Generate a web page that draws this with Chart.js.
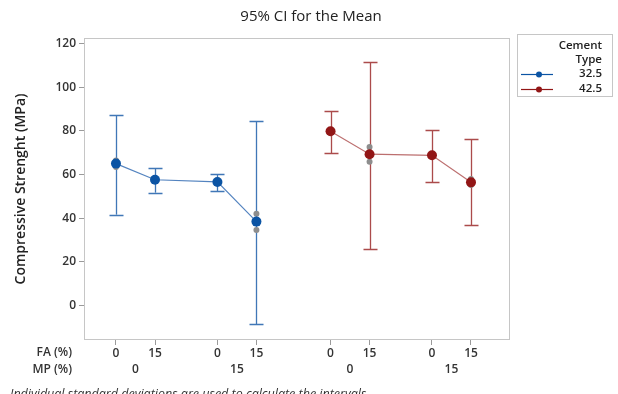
<!DOCTYPE html>
<html>
<head>
<meta charset="utf-8">
<script src="https://cdn.jsdelivr.net/npm/chart.js@4.4.0/dist/chart.umd.min.js"></script>
<style>
  html, body { margin: 0; padding: 0; background: #fff; }
  #wrap { width: 618px; height: 394px; }
</style>
</head>
<body>
<div id="wrap"><canvas id="chart"></canvas></div>
<script>
// categories
var faLabels = ['0', '15', '0', '15', '0', '15', '0', '15'];
var mpLabels = ['0', '15', '0', '15'];
var cementTypes = ['32.5', '42.5'];
var yTicks = [0, 20, 40, 60, 80, 100, 120];

// cement 32.5 : means and 95% CI
var mean325 = [65.0, 57.6, 56.6, 38.4];
var lower325 = [41.6, 51.7, 52.6, -8.6];
var upper325 = [87.3, 62.8, 60.1, 84.5];
var obs325 = [[63.4, 66.4], [57.0, 58.2], [56.0, 57.2], [42.0, 34.6]];

// cement 42.5 : means and 95% CI
var mean425 = [79.8, 69.3, 68.8, 56.4];
var lower425 = [69.7, 25.8, 56.4, 36.7];
var upper425 = [89.0, 111.7, 80.4, 76.1];
var obs425 = [[79.2, 80.4], [72.6, 65.9], [68.2, 69.4], [57.9, 55.2]];

var FONT = "'Open Sans', 'Noto Sans', sans-serif";
var BLUE = '#0b54a4';
var RED = '#921616';

// x slot of each cell: pairs 1 apart, wider gap between MP groups and cement types
function slot(i) {
	var cement = Math.floor(i / 4);
	var mp = Math.floor(i / 2) % 2;
	var fa = i % 2;
	return cement * 5.5 + mp * 2.6 + fa;
}
var slots = faLabels.map(function (l, i) { return slot(i); });

function points(means, group) {
	return means.map(function (v, j) { return { x: slots[group * 4 + j], y: v }; });
}
function obsPoints(obs, group) {
	var out = [];
	obs.forEach(function (vals, j) {
		vals.forEach(function (v) { out.push({ x: slots[group * 4 + j], y: v }); });
	});
	return out;
}

var intervals = [
	{ color: 'rgba(30,95,170,0.85)', lower: lower325, upper: upper325, group: 0 },
	{ color: 'rgba(150,30,30,0.8)', lower: lower425, upper: upper425, group: 1 }
];

var decor = {
	id: 'decor',
	beforeDatasetsDraw: function (chart) {
		var ctx = chart.ctx, x = chart.scales.x, y = chart.scales.y, a = chart.chartArea;
		ctx.save();
		ctx.strokeStyle = '#c6c6c6';
		ctx.lineWidth = 1;
		ctx.strokeRect(a.left + 0.5, a.top + 0.5, a.right - a.left - 1, a.bottom - a.top - 1);
		// error bars
		intervals.forEach(function (iv) {
			ctx.strokeStyle = iv.color;
			ctx.lineWidth = 1.3;
			iv.lower.forEach(function (lo, j) {
				var px = Math.round(x.getPixelForValue(slots[iv.group * 4 + j])) + 0.5;
				var pl = y.getPixelForValue(lo), pu = y.getPixelForValue(iv.upper[j]);
				ctx.beginPath();
				ctx.moveTo(px, pl); ctx.lineTo(px, pu);
				ctx.moveTo(px - 7, Math.round(pl) + 0.5); ctx.lineTo(px + 7, Math.round(pl) + 0.5);
				ctx.moveTo(px - 7, Math.round(pu) + 0.5); ctx.lineTo(px + 7, Math.round(pu) + 0.5);
				ctx.stroke();
			});
		});
		ctx.restore();
	},
	afterDraw: function (chart) {
		var ctx = chart.ctx, x = chart.scales.x;
		ctx.save();
		ctx.fillStyle = '#222';
		ctx.textAlign = 'center';
		ctx.textBaseline = 'middle';
		ctx.font = '15px ' + FONT;
		ctx.fillText('95% CI for the Mean', 311, 17);

		ctx.font = '600 12px ' + FONT;
		ctx.fillStyle = '#333';
		mpLabels.forEach(function (l, k) {
			var px = (x.getPixelForValue(slots[k * 2]) + x.getPixelForValue(slots[k * 2 + 1])) / 2;
			ctx.fillText(l, px, 370);
		});
		ctx.textAlign = 'right';
		ctx.fillText('FA (%)', 72, 353);
		ctx.fillText('MP (%)', 72, 370);

		ctx.textAlign = 'left';
		ctx.textBaseline = 'top';
		ctx.font = 'italic 12.5px ' + FONT;
		ctx.fillStyle = '#333';
		ctx.fillText('Individual standard deviations are used to calculate the intervals.', 10, 388);

		// legend
		ctx.strokeStyle = '#c6c6c6';
		ctx.lineWidth = 1;
		ctx.strokeRect(517.5, 34.5, 95, 62);
		ctx.textAlign = 'right';
		ctx.textBaseline = 'middle';
		ctx.font = '600 11.5px ' + FONT;
		ctx.fillStyle = '#222';
		ctx.fillText('Cement', 602, 46);
		ctx.fillText('Type', 602, 60);
		[BLUE, RED].forEach(function (c, k) {
			var ly = 74 + k * 15;
			ctx.strokeStyle = c;
			ctx.lineWidth = 1.2;
			ctx.beginPath(); ctx.moveTo(521, ly + 0.5); ctx.lineTo(553, ly + 0.5); ctx.stroke();
			ctx.fillStyle = c;
			ctx.beginPath(); ctx.arc(539, ly + 0.5, 3, 0, Math.PI * 2); ctx.fill();
			ctx.fillStyle = '#222';
			ctx.fillText(cementTypes[k], 602, ly);
		});
		ctx.restore();
	}
};

new Chart(document.getElementById('chart'), {
	type: 'scatter',
	data: {
		datasets: [
			{
				label: 'obs 32.5', data: obsPoints(obs325, 0), pointRadius: 3,
				pointBackgroundColor: '#8d8d8d', pointBorderWidth: 0, showLine: false, order: 3
			},
			{
				label: 'obs 42.5', data: obsPoints(obs425, 1), pointRadius: 3,
				pointBackgroundColor: '#8d8d8d', pointBorderWidth: 0, showLine: false, order: 3
			},
			{
				label: cementTypes[0], data: points(mean325, 0), showLine: true,
				borderColor: 'rgba(40,100,175,0.8)', borderWidth: 1.2,
				pointRadius: 5, pointBackgroundColor: BLUE, pointBorderWidth: 0, order: 1
			},
			{
				label: cementTypes[1], data: points(mean425, 1), showLine: true,
				borderColor: 'rgba(160,50,50,0.7)', borderWidth: 1.2,
				pointRadius: 5, pointBackgroundColor: RED, pointBorderWidth: 0, order: 1
			}
		]
	},
	options: {
		responsive: true,
		maintainAspectRatio: false,
		animation: false,
		layout: { padding: { left: 0, right: 108, top: 38, bottom: 0 } },
		plugins: { legend: { display: false }, title: { display: false }, tooltip: { enabled: false } },
		scales: {
			x: {
				type: 'linear', min: -0.82, max: 10.1,
				grid: { display: true, drawOnChartArea: false, drawTicks: true, tickLength: 5, color: '#9a9a9a' },
				border: { display: false },
				ticks: {
					padding: 1, color: '#333', font: { family: FONT, size: 12, weight: '600' },
					callback: function (v, i) { return faLabels[i]; }
				},
				afterBuildTicks: function (s) { s.ticks = slots.map(function (v) { return { value: v }; }); },
				afterFit: function (s) { s.height = 54; }
			},
			y: {
				min: -15.9, max: 122.6,
				grid: { display: true, drawOnChartArea: false, drawTicks: true, tickLength: 5, color: '#9a9a9a' },
				border: { display: false },
				ticks: { padding: 3, color: '#333', font: { family: FONT, size: 12, weight: '600' } },
				afterBuildTicks: function (s) { s.ticks = yTicks.map(function (v) { return { value: v }; }); },
				title: {
					display: true, text: 'Compressive Strenght (MPa)', color: '#222',
					font: { family: FONT, size: 14, weight: '600' }, padding: { top: 13, bottom: 0 }
				},
				afterFit: function (s) { s.width = 84; }
			}
		}
	},
	plugins: [decor]
});
</script>
</body>
</html>
